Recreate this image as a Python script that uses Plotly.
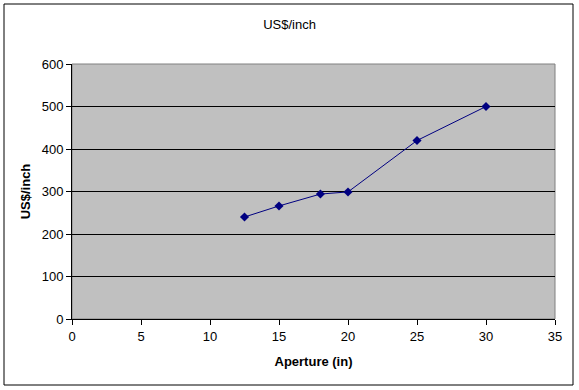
import plotly.graph_objects as go

aperture = [12.5, 15, 18, 20, 25, 30]
usd_per_inch = [240, 266, 294, 299, 420, 500]

FONT = "Liberation Sans, Arial, sans-serif"

fig = go.Figure()
fig.add_trace(go.Scatter(
    x=aperture, y=usd_per_inch, mode="lines+markers",
    line=dict(color="#000080", width=1),
    marker=dict(symbol="diamond", size=7, color="#000080"),
    showlegend=False,
))

fig.update_layout(
    width=579, height=390,
    margin=dict(l=72, r=24, t=64, b=71),
    paper_bgcolor="white",
    plot_bgcolor="#c0c0c0",
    font=dict(family=FONT, size=13, color="black"),
    title=dict(text="US$/inch", x=0.5, xref="container", y=0.938, yref="container",
               yanchor="middle", font=dict(size=13, family=FONT, color="black")),
    xaxis=dict(range=[0, 35], tickvals=[0, 5, 10, 15, 20, 25, 30, 35],
               showgrid=False, zeroline=False, showline=True, linecolor="black", linewidth=1,
               ticks="outside", ticklen=5, tickcolor="black", tickfont=dict(size=13),
               title=dict(text="<b>Aperture (in)</b>", font=dict(size=13), standoff=14),
               mirror=False),
    yaxis=dict(range=[0, 600], tickvals=[0, 100, 200, 300, 400, 500, 600],
               showgrid=True, gridcolor="black", gridwidth=1, zeroline=False,
               showline=True, linecolor="black", linewidth=1,
               ticks="outside", ticklen=5, tickcolor="black", tickfont=dict(size=13),
               title=dict(text="<b>US$/inch</b>", font=dict(size=13), standoff=8)),
    shapes=[
        dict(type="rect", xref="paper", yref="paper", x0=0, x1=1, y0=0, y1=1,
             line=dict(color="#808080", width=1), layer="below"),
        dict(type="rect", xref="paper", yref="paper", x0=-68/483, x1=1+18/483,
             y0=-66/255, y1=1+60/255, line=dict(color="black", width=1)),
    ],
)

fig.write_html("out.html", config={"displayModeBar": False},
               post_script="document.body.style.margin='0';")
